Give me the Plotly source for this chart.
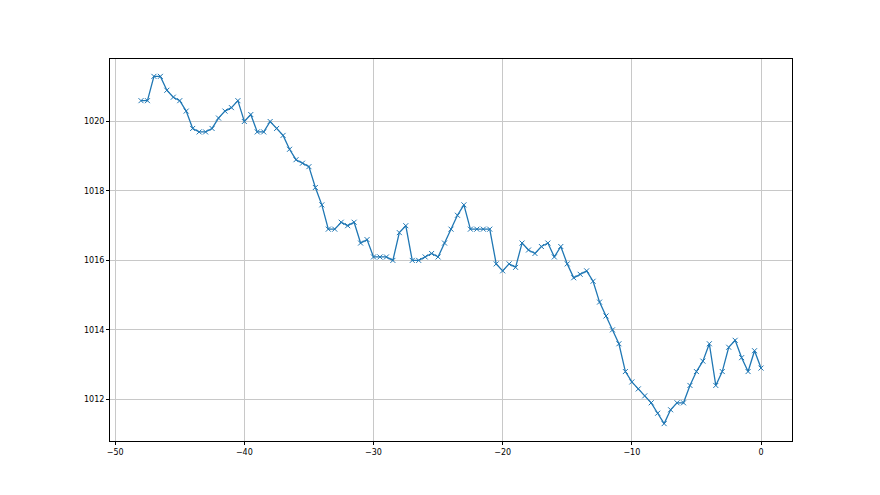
import plotly.graph_objects as go

hours = [-48 + 0.5 * i for i in range(97)]
pressure = [
    1020.6, 1020.6, 1021.3, 1021.3, 1020.9, 1020.7, 1020.6, 1020.3, 1019.8, 1019.7,
    1019.7, 1019.8, 1020.1, 1020.3, 1020.4, 1020.6, 1020.0, 1020.2, 1019.7, 1019.7,
    1020.0, 1019.8, 1019.6, 1019.2, 1018.9, 1018.8, 1018.7, 1018.1, 1017.6, 1016.9,
    1016.9, 1017.1, 1017.0, 1017.1, 1016.5, 1016.6, 1016.1, 1016.1, 1016.1, 1016.0,
    1016.8, 1017.0, 1016.0, 1016.0, 1016.1, 1016.2, 1016.1, 1016.5, 1016.9, 1017.3,
    1017.6, 1016.9, 1016.9, 1016.9, 1016.9, 1015.9, 1015.7, 1015.9, 1015.8, 1016.5,
    1016.3, 1016.2, 1016.4, 1016.5, 1016.1, 1016.4, 1015.9, 1015.5, 1015.6, 1015.7,
    1015.4, 1014.8, 1014.4, 1014.0, 1013.6, 1012.8, 1012.5, 1012.3, 1012.1, 1011.9,
    1011.6, 1011.3, 1011.7, 1011.9, 1011.9, 1012.4, 1012.8, 1013.1, 1013.6, 1012.4,
    1012.8, 1013.5, 1013.7, 1013.2, 1012.8, 1013.4, 1012.9,
]
x_ticks = [-50, -40, -30, -20, -10, 0]
y_ticks = [1012, 1014, 1016, 1018, 1020]

fig = go.Figure()
fig.add_trace(go.Scatter(
    x=hours, y=pressure, mode="lines+markers",
    line=dict(color="#1f77b4", width=1.3),
    marker=dict(symbol="x-thin", size=5, line=dict(color="#1f77b4", width=1)),
    showlegend=False,
))

axis_common = dict(
    showline=True, mirror=True, linecolor="black", linewidth=1,
    ticks="outside", ticklen=3, tickcolor="black", tickwidth=1,
    showgrid=True, gridcolor="#c8c8c8", gridwidth=1,
    zeroline=False,
    tickfont=dict(family="DejaVu Sans", size=8, color="black"),
)

fig.update_layout(
    width=872, height=487,
    margin=dict(l=102, r=88, t=51, b=54),
    paper_bgcolor="white", plot_bgcolor="white",
    xaxis=dict(range=[-50.4, 2.4], tickvals=x_ticks, **axis_common),
    yaxis=dict(range=[1010.8, 1021.8], tickvals=y_ticks, **axis_common),
)

fig.write_html("out.html")
